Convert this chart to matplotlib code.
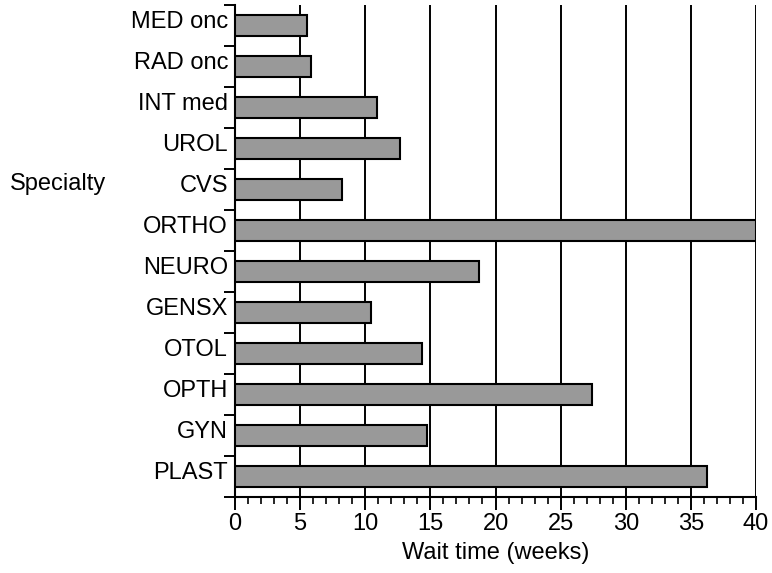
import numpy as np
import matplotlib
matplotlib.use("Agg")
import matplotlib.pyplot as plt
from matplotlib.ticker import MultipleLocator, FixedLocator

plt.rcParams['font.family'] = ['Liberation Sans', 'DejaVu Sans']

specialties = ['MED onc', 'RAD onc', 'INT med', 'UROL', 'CVS', 'ORTHO',
               'NEURO', 'GENSX', 'OTOL', 'OPTH', 'GYN', 'PLAST']
wait_weeks = [5.5, 5.8, 10.9, 12.7, 8.25, 40.0,
              18.75, 10.45, 14.35, 27.4, 14.75, 36.2]

fig = plt.figure(figsize=(7.72, 5.73), dpi=100)
ax = fig.add_axes([0.3044, 0.1326, 0.6749, 0.8587])

ypos = np.arange(len(specialties))
ax.barh(ypos, wait_weeks, height=0.52, color='#999999', edgecolor='black',
        linewidth=1.5, zorder=3)

ax.set_xlim(0, 40)
ax.set_ylim(len(specialties) - 0.5, -0.5)

# vertical grid at every 5 weeks
ax.xaxis.set_major_locator(MultipleLocator(5))
ax.xaxis.set_minor_locator(MultipleLocator(1))
ax.grid(axis='x', which='major', color='black', linewidth=1.4, zorder=0)

# y ticks sit between the bars, labels a little above the bar centres
ax.yaxis.set_major_locator(FixedLocator(np.arange(-0.5, len(specialties), 1.0)))
ax.yaxis.set_minor_locator(FixedLocator(ypos - 0.14))
ax.set_yticklabels([], minor=False)
ax.set_yticklabels(specialties, minor=True)
ax.tick_params(axis='y', which='major', length=8, width=1.4)
ax.tick_params(axis='y', which='minor', length=0, pad=5, labelsize=17)
ax.tick_params(axis='x', which='major', length=9.5, width=1.4, labelsize=17, pad=2)
ax.tick_params(axis='x', which='minor', length=5, width=1.2)

for side in ['top', 'right']:
    ax.spines[side].set_visible(False)
for side in ['left', 'bottom']:
    ax.spines[side].set_linewidth(1.5)

ax.set_xlabel('Wait time (weeks)', fontsize=17, labelpad=5)
ax.set_ylabel('Specialty', fontsize=17, rotation=0, ha='left', va='center')
ax.yaxis.set_label_coords(-0.432, 0.637)

fig.savefig('out.png', dpi=100)
